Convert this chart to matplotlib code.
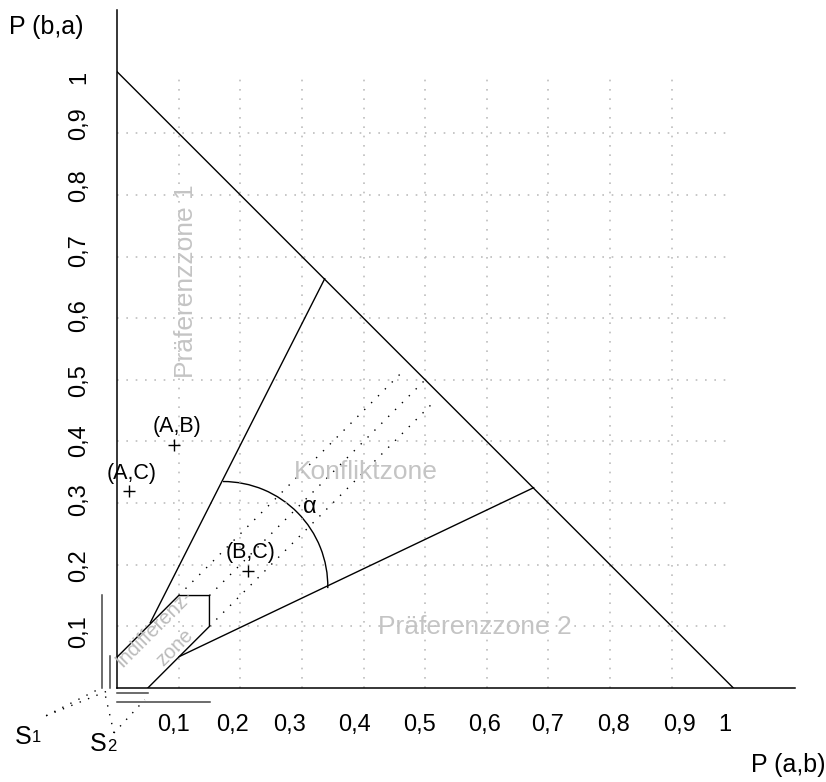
import matplotlib
matplotlib.use('Agg')
import matplotlib.pyplot as plt
from matplotlib.patches import Arc

plt.rcParams['font.family'] = ['Liberation Sans', 'DejaVu Sans']

# tick labels (placed by hand in the original, slightly off the grid)
tick_labels = ['0,1', '0,2', '0,3', '0,4', '0,5', '0,6', '0,7', '0,8', '0,9', '1']
xtick_pos = [0.092, 0.188, 0.280, 0.386, 0.490, 0.596, 0.699, 0.806, 0.912, 0.986]
ytick_pos = [0.092, 0.199, 0.305, 0.402, 0.499, 0.605, 0.710, 0.815, 0.916, 0.991]
grid_vals = [0.1, 0.2, 0.3, 0.4, 0.5, 0.6, 0.7, 0.8, 0.9]

# boundary lines
hyp_x, hyp_y = [0, 1], [1, 0]
upper_x, upper_y = [0.054, 0.337], [0.106, 0.664]
lower_x, lower_y = [0.101, 0.676], [0.051, 0.325]
indiff_x = [0, 0.10, 0.15, 0.15, 0.05]
indiff_y = [0.05, 0.15, 0.15, 0.10, 0]

# dotted diagonals
diag_x = [[0.10, 0.465], [0.15, 0.50], [0.15, 0.513]]
diag_y = [[0.15, 0.515], [0.15, 0.50], [0.10, 0.463]]

# angle arc
arc_center = (0.172, 0.165)
arc_r = 0.170

# points
pt_names = ['(A,B)', '(A,C)', '(B,C)']
pt_x = [0.0925, 0.0195, 0.212]
pt_y = [0.395, 0.319, 0.190]

# projections of the indifference zone
proj_v_x = [-0.025, -0.011]
proj_v_top = [0.151, 0.052]
proj_h_y = [-0.0076, -0.023]
proj_h_right = [0.051, 0.151]

# perspective rays from S1 and S2
s1 = (-0.115, -0.045)
s1_targets = [(-0.026, 0.0), (-0.011, -0.003)]
s2 = (-0.005, -0.073)
s2_targets = [(-0.021, -0.003), (0.045, -0.019)]

fig = plt.figure(figsize=(8.26, 7.82), dpi=100)
ax = fig.add_axes([117 / 826, 94 / 782, 678 / 826, 678 / 782])
ax.set_xlim(0, 1.1)
ax.set_ylim(0, 1.1)
for s in ['top', 'right']:
    ax.spines[s].set_visible(False)
for s in ['left', 'bottom']:
    ax.spines[s].set_linewidth(1.1)

ax.set_xticks(xtick_pos, tick_labels, fontsize=17)
ax.set_yticks(ytick_pos, tick_labels, fontsize=17, rotation=90, va='center')
ax.tick_params(length=0, pad=19)

grid_style = dict(colors='#bdbdbd', linestyles=(0, (1, 4.6)), lw=1.2)
ax.vlines(grid_vals, 0, 1, **grid_style)
ax.hlines(grid_vals, 0, 1, **grid_style)

line_kw = dict(color='black', lw=1.0)
ax.plot(hyp_x, hyp_y, **line_kw)
ax.plot(upper_x, upper_y, **line_kw)
ax.plot(lower_x, lower_y, **line_kw)
ax.plot(indiff_x, indiff_y, **line_kw)

for dx, dy in zip(diag_x, diag_y):
    ax.plot(dx, dy, color='black', lw=1.0, linestyle=(0, (1, 6)))

ax.add_patch(Arc(arc_center, 2 * arc_r, 2 * arc_r, theta1=-1, theta2=90,
                 color='black', lw=1.0))
ax.text(0.313, 0.293, 'α', fontsize=17, ha='center', va='center')

ax.plot(pt_x, pt_y, '+', color='black', ms=9, mew=1.0)
for name, x, y in zip(pt_names, pt_x, pt_y):
    ax.annotate(name, (x, y), xytext=(2, 13), textcoords='offset points',
                ha='center', va='center', fontsize=15.5)

zone_gray = '#c4c4c4'
ax.text(0.112, 0.660, 'Präferenzzone 1', rotation=90, fontsize=19,
        color=zone_gray, ha='center', va='center')
ax.text(0.580, 0.099, 'Präferenzzone 2', fontsize=19,
        color=zone_gray, ha='center', va='center')
ax.text(0.403, 0.350, 'Konfliktzone', fontsize=19,
        color=zone_gray, ha='center', va='center')
ax.text(0.060, 0.097, 'Indifferenz-', rotation=45, fontsize=14.5,
        color='#bbbbbb', ha='center', va='center', rotation_mode='anchor')
ax.text(0.094, 0.066, 'zone', rotation=45, fontsize=14.5,
        color='#bbbbbb', ha='center', va='center', rotation_mode='anchor')

# projections below / left of the origin
for x, top in zip(proj_v_x, proj_v_top):
    ax.plot([x, x], [0, top], color='#444444', lw=1.1, clip_on=False)
for y, right in zip(proj_h_y, proj_h_right):
    ax.plot([0, right], [y, y], color='#444444', lw=1.1, clip_on=False)

dot_kw = dict(color='black', lw=1.0, linestyle=(0, (1, 5.5)), clip_on=False)
for tx, ty in s1_targets:
    ax.plot([s1[0], tx], [s1[1], ty], **dot_kw)
for tx, ty in s2_targets:
    ax.plot([s2[0], tx], [s2[1], ty], **dot_kw)

ax.text(-0.153, -0.079, 'S', fontsize=18, ha='center', va='center')
ax.text(-0.131, -0.080, '1', fontsize=12, ha='center', va='center')
ax.text(-0.031, -0.091, 'S', fontsize=18, ha='center', va='center')
ax.text(-0.008, -0.095, '2', fontsize=12, ha='center', va='center')

ax.text(-0.114, 1.073, 'P (b,a)', fontsize=18, ha='center', va='center')
ax.text(1.089, -0.125, 'P (a,b)', fontsize=18, ha='center', va='center')

fig.savefig('out.png', dpi=100)
